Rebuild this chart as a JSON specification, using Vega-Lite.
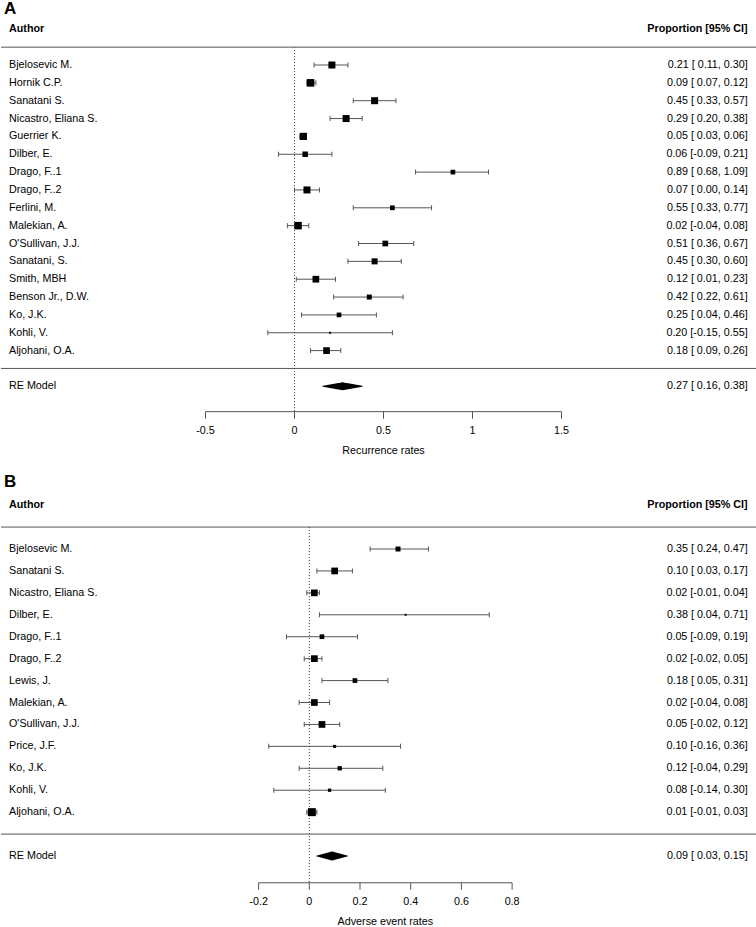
{
  "$schema": "https://vega.github.io/schema/vega-lite/v6.json",
  "padding": 0,
  "spacing": 0,
  "bounds": "flush",
  "background": "white",
  "config": {
    "view": {"stroke": null},
    "axis": {"disable": true},
    "legend": {"disable": true},
    "text": {"font": "Liberation Sans", "fontSize": 10.75, "color": "black"}
  },
  "datasets": {
    "studies": [
      {"panel": "A", "type": "study", "row": 0, "author": "Bjelosevic M.", "est": 0.21, "lo": 0.11, "hi": 0.30, "weight": 7, "ci": "0.21 [ 0.11, 0.30]"},
      {"panel": "A", "type": "study", "row": 1, "author": "Hornik C.P.", "est": 0.09, "lo": 0.07, "hi": 0.12, "weight": 7.6, "ci": "0.09 [ 0.07, 0.12]"},
      {"panel": "A", "type": "study", "row": 2, "author": "Sanatani S.", "est": 0.45, "lo": 0.33, "hi": 0.57, "weight": 7, "ci": "0.45 [ 0.33, 0.57]"},
      {"panel": "A", "type": "study", "row": 3, "author": "Nicastro, Eliana S.", "est": 0.29, "lo": 0.20, "hi": 0.38, "weight": 7, "ci": "0.29 [ 0.20, 0.38]"},
      {"panel": "A", "type": "study", "row": 4, "author": "Guerrier K.", "est": 0.05, "lo": 0.03, "hi": 0.06, "weight": 7.2, "ci": "0.05 [ 0.03, 0.06]"},
      {"panel": "A", "type": "study", "row": 5, "author": "Dilber, E.", "est": 0.06, "lo": -0.09, "hi": 0.21, "weight": 5.5, "ci": "0.06 [-0.09, 0.21]"},
      {"panel": "A", "type": "study", "row": 6, "author": "Drago, F..1", "est": 0.89, "lo": 0.68, "hi": 1.09, "weight": 4.7, "ci": "0.89 [ 0.68, 1.09]"},
      {"panel": "A", "type": "study", "row": 7, "author": "Drago, F..2", "est": 0.07, "lo": 0.00, "hi": 0.14, "weight": 7, "ci": "0.07 [ 0.00, 0.14]"},
      {"panel": "A", "type": "study", "row": 8, "author": "Ferlini, M.", "est": 0.55, "lo": 0.33, "hi": 0.77, "weight": 4.7, "ci": "0.55 [ 0.33, 0.77]"},
      {"panel": "A", "type": "study", "row": 9, "author": "Malekian, A.", "est": 0.02, "lo": -0.04, "hi": 0.08, "weight": 7.5, "ci": "0.02 [-0.04, 0.08]"},
      {"panel": "A", "type": "study", "row": 10, "author": "O'Sullivan, J.J.", "est": 0.51, "lo": 0.36, "hi": 0.67, "weight": 5.7, "ci": "0.51 [ 0.36, 0.67]"},
      {"panel": "A", "type": "study", "row": 11, "author": "Sanatani, S.", "est": 0.45, "lo": 0.30, "hi": 0.60, "weight": 6, "ci": "0.45 [ 0.30, 0.60]"},
      {"panel": "A", "type": "study", "row": 12, "author": "Smith, MBH", "est": 0.12, "lo": 0.01, "hi": 0.23, "weight": 6.7, "ci": "0.12 [ 0.01, 0.23]"},
      {"panel": "A", "type": "study", "row": 13, "author": "Benson Jr., D.W.", "est": 0.42, "lo": 0.22, "hi": 0.61, "weight": 5, "ci": "0.42 [ 0.22, 0.61]"},
      {"panel": "A", "type": "study", "row": 14, "author": "Ko, J.K.", "est": 0.25, "lo": 0.04, "hi": 0.46, "weight": 4.7, "ci": "0.25 [ 0.04, 0.46]"},
      {"panel": "A", "type": "study", "row": 15, "author": "Kohli, V.", "est": 0.20, "lo": -0.15, "hi": 0.55, "weight": 2, "ci": "0.20 [-0.15, 0.55]"},
      {"panel": "A", "type": "study", "row": 16, "author": "Aljohani, O.A.", "est": 0.18, "lo": 0.09, "hi": 0.26, "weight": 6.7, "ci": "0.18 [ 0.09, 0.26]"},
      {"panel": "A", "type": "summary", "row": 18, "author": "RE Model", "est": 0.27, "lo": 0.16, "hi": 0.38, "ci": "0.27 [ 0.16, 0.38]"},
      {"panel": "B", "type": "study", "row": 0, "author": "Bjelosevic M.", "est": 0.35, "lo": 0.24, "hi": 0.47, "weight": 5, "ci": "0.35 [ 0.24, 0.47]"},
      {"panel": "B", "type": "study", "row": 1, "author": "Sanatani S.", "est": 0.10, "lo": 0.03, "hi": 0.17, "weight": 6.7, "ci": "0.10 [ 0.03, 0.17]"},
      {"panel": "B", "type": "study", "row": 2, "author": "Nicastro, Eliana S.", "est": 0.02, "lo": -0.01, "hi": 0.04, "weight": 6.7, "ci": "0.02 [-0.01, 0.04]"},
      {"panel": "B", "type": "study", "row": 3, "author": "Dilber, E.", "est": 0.38, "lo": 0.04, "hi": 0.71, "weight": 2, "ci": "0.38 [ 0.04, 0.71]"},
      {"panel": "B", "type": "study", "row": 4, "author": "Drago, F..1", "est": 0.05, "lo": -0.09, "hi": 0.19, "weight": 4.7, "ci": "0.05 [-0.09, 0.19]"},
      {"panel": "B", "type": "study", "row": 5, "author": "Drago, F..2", "est": 0.02, "lo": -0.02, "hi": 0.05, "weight": 6.7, "ci": "0.02 [-0.02, 0.05]"},
      {"panel": "B", "type": "study", "row": 6, "author": "Lewis, J.", "est": 0.18, "lo": 0.05, "hi": 0.31, "weight": 4.7, "ci": "0.18 [ 0.05, 0.31]"},
      {"panel": "B", "type": "study", "row": 7, "author": "Malekian, A.", "est": 0.02, "lo": -0.04, "hi": 0.08, "weight": 6.7, "ci": "0.02 [-0.04, 0.08]"},
      {"panel": "B", "type": "study", "row": 8, "author": "O'Sullivan, J.J.", "est": 0.05, "lo": -0.02, "hi": 0.12, "weight": 6.7, "ci": "0.05 [-0.02, 0.12]"},
      {"panel": "B", "type": "study", "row": 9, "author": "Price, J.F.", "est": 0.10, "lo": -0.16, "hi": 0.36, "weight": 3, "ci": "0.10 [-0.16, 0.36]"},
      {"panel": "B", "type": "study", "row": 10, "author": "Ko, J.K.", "est": 0.12, "lo": -0.04, "hi": 0.29, "weight": 4.3, "ci": "0.12 [-0.04, 0.29]"},
      {"panel": "B", "type": "study", "row": 11, "author": "Kohli, V.", "est": 0.08, "lo": -0.14, "hi": 0.30, "weight": 3.3, "ci": "0.08 [-0.14, 0.30]"},
      {"panel": "B", "type": "study", "row": 12, "author": "Aljohani, O.A.", "est": 0.01, "lo": -0.01, "hi": 0.03, "weight": 8, "ci": "0.01 [-0.01, 0.03]"},
      {"panel": "B", "type": "summary", "row": 14, "author": "RE Model", "est": 0.09, "lo": 0.03, "hi": 0.15, "ci": "0.09 [ 0.03, 0.15]"}
    ],
    "ticks": [
      {"panel": "A", "v": -0.5, "label": "-0.5"},
      {"panel": "A", "v": 0, "label": "0"},
      {"panel": "A", "v": 0.5, "label": "0.5"},
      {"panel": "A", "v": 1, "label": "1"},
      {"panel": "A", "v": 1.5, "label": "1.5"},
      {"panel": "B", "v": -0.2, "label": "-0.2"},
      {"panel": "B", "v": 0, "label": "0"},
      {"panel": "B", "v": 0.2, "label": "0.2"},
      {"panel": "B", "v": 0.4, "label": "0.4"},
      {"panel": "B", "v": 0.6, "label": "0.6"},
      {"panel": "B", "v": 0.8, "label": "0.8"}
    ]
  },
  "vconcat": [
    {
      "width": 756,
      "height": 463,
      "layer": [
        {"data": {"values": [{}]}, "mark": {"type": "rule", "color": "#333", "strokeDash": [1, 2]},
         "encoding": {
           "x": {"datum": 0, "type": "quantitative", "scale": {"domain": [-1.6489, 2.5983], "nice": false, "zero": false}, "axis": null},
           "y": {"datum": -1, "type": "quantitative", "scale": {"domain": [-3.6415, 22.2969], "nice": false, "zero": false, "reverse": true}, "axis": null},
           "y2": {"datum": 19.42}}},
        {"data": {"values": [{}]}, "mark": {"type": "rule", "color": "#555"}, "encoding": {"y": {"datum": -1, "type": "quantitative"}}},
        {"data": {"values": [{}]}, "mark": {"type": "rule", "color": "#555"}, "encoding": {"y": {"datum": 17, "type": "quantitative"}}},
        {"data": {"name": "studies"}, "transform": [{"filter": "datum.panel === 'A' && datum.type === 'study'"}],
         "mark": {"type": "rule", "color": "#555"},
         "encoding": {"x": {"field": "lo", "type": "quantitative"}, "x2": {"field": "hi"}, "y": {"field": "row", "type": "quantitative"}}},
        {"data": {"name": "studies"}, "transform": [{"filter": "datum.panel === 'A' && datum.type === 'study'"}],
         "mark": {"type": "tick", "orient": "vertical", "size": 5, "thickness": 1, "color": "#555", "opacity": 1},
         "encoding": {"x": {"field": "lo", "type": "quantitative"}, "y": {"field": "row", "type": "quantitative"}}},
        {"data": {"name": "studies"}, "transform": [{"filter": "datum.panel === 'A' && datum.type === 'study'"}],
         "mark": {"type": "tick", "orient": "vertical", "size": 5, "thickness": 1, "color": "#555", "opacity": 1},
         "encoding": {"x": {"field": "hi", "type": "quantitative"}, "y": {"field": "row", "type": "quantitative"}}},
        {"data": {"name": "studies"}, "transform": [{"filter": "datum.panel === 'A' && datum.type === 'study'"}],
         "mark": {"type": "point", "shape": "square", "filled": true, "color": "black", "opacity": 1},
         "encoding": {"x": {"field": "est", "type": "quantitative"}, "y": {"field": "row", "type": "quantitative"},
           "size": {"field": "weight", "type": "quantitative", "scale": {"type": "pow", "exponent": 2, "domain": [0, 10], "range": [0, 100]}, "legend": null}}},
        {"data": {"name": "studies"}, "transform": [{"filter": "datum.panel === 'A' && datum.type === 'summary'"}, {"fold": ["lo", "est", "hi"], "as": ["pt", "xv"]}],
         "mark": {"type": "trail", "color": "black"},
         "encoding": {"x": {"field": "xv", "type": "quantitative"}, "y": {"field": "row", "type": "quantitative"},
           "size": {"condition": {"test": "datum.pt === 'est'", "value": 8}, "value": 0}}},
        {"data": {"name": "studies"}, "transform": [{"filter": "datum.panel === 'A'"}],
         "mark": {"type": "text", "align": "left", "baseline": "middle"},
         "encoding": {"x": {"datum": -1.604, "type": "quantitative"}, "y": {"field": "row", "type": "quantitative"}, "text": {"field": "author"}}},
        {"data": {"name": "studies"}, "transform": [{"filter": "datum.panel === 'A'"}],
         "mark": {"type": "text", "align": "right", "baseline": "middle"},
         "encoding": {"x": {"datum": 2.546, "type": "quantitative"}, "y": {"field": "row", "type": "quantitative"}, "text": {"field": "ci"}}},
        {"data": {"values": [{}]}, "mark": {"type": "text", "align": "left", "baseline": "middle", "fontWeight": "bold"},
         "encoding": {"x": {"datum": -1.604, "type": "quantitative"}, "y": {"datum": -2, "type": "quantitative"}, "text": {"value": "Author"}}},
        {"data": {"values": [{}]}, "mark": {"type": "text", "align": "right", "baseline": "middle", "fontWeight": "bold"},
         "encoding": {"x": {"datum": 2.546, "type": "quantitative"}, "y": {"datum": -2, "type": "quantitative"}, "text": {"value": "Proportion [95% CI]"}}},
        {"data": {"values": [{}]}, "mark": {"type": "text", "align": "left", "baseline": "middle", "fontWeight": "bold", "fontSize": 17},
         "encoding": {"x": {"datum": -1.632, "type": "quantitative"}, "y": {"datum": -3.11, "type": "quantitative"}, "text": {"value": "A"}}},
        {"data": {"values": [{}]}, "mark": {"type": "rule", "color": "#555"},
         "encoding": {"x": {"datum": -0.5, "type": "quantitative"}, "x2": {"datum": 1.5}, "y": {"datum": 19.42, "type": "quantitative"}}},
        {"data": {"name": "ticks"}, "transform": [{"filter": "datum.panel === 'A'"}],
         "mark": {"type": "tick", "orient": "vertical", "size": 7, "thickness": 1, "yOffset": 3.5, "color": "#555", "opacity": 1},
         "encoding": {"x": {"field": "v", "type": "quantitative"}, "y": {"datum": 19.42, "type": "quantitative"}}},
        {"data": {"name": "ticks"}, "transform": [{"filter": "datum.panel === 'A'"}],
         "mark": {"type": "text", "align": "center", "baseline": "middle"},
         "encoding": {"x": {"field": "v", "type": "quantitative"}, "y": {"datum": 20.5, "type": "quantitative"}, "text": {"field": "label"}}},
        {"data": {"values": [{}]}, "mark": {"type": "text", "align": "center", "baseline": "middle"},
         "encoding": {"x": {"datum": 0.5, "type": "quantitative"}, "y": {"datum": 21.62, "type": "quantitative"}, "text": {"value": "Recurrence rates"}}}
      ]
    },
    {
      "width": 756,
      "height": 464,
      "layer": [
        {"data": {"values": [{}]}, "mark": {"type": "rule", "color": "#333", "strokeDash": [1, 2]},
         "encoding": {
           "x": {"datum": 0, "type": "quantitative", "scale": {"domain": [-1.2162, 1.7661], "nice": false, "zero": false}, "axis": null},
           "y": {"datum": -1, "type": "quantitative", "scale": {"domain": [-3.9216, 17.2366], "nice": false, "zero": false, "reverse": true}, "axis": null},
           "y2": {"datum": 15.22}}},
        {"data": {"values": [{}]}, "mark": {"type": "rule", "color": "#555"}, "encoding": {"y": {"datum": -1, "type": "quantitative"}}},
        {"data": {"values": [{}]}, "mark": {"type": "rule", "color": "#555"}, "encoding": {"y": {"datum": 13, "type": "quantitative"}}},
        {"data": {"name": "studies"}, "transform": [{"filter": "datum.panel === 'B' && datum.type === 'study'"}],
         "mark": {"type": "rule", "color": "#555"},
         "encoding": {"x": {"field": "lo", "type": "quantitative"}, "x2": {"field": "hi"}, "y": {"field": "row", "type": "quantitative"}}},
        {"data": {"name": "studies"}, "transform": [{"filter": "datum.panel === 'B' && datum.type === 'study'"}],
         "mark": {"type": "tick", "orient": "vertical", "size": 5, "thickness": 1, "color": "#555", "opacity": 1},
         "encoding": {"x": {"field": "lo", "type": "quantitative"}, "y": {"field": "row", "type": "quantitative"}}},
        {"data": {"name": "studies"}, "transform": [{"filter": "datum.panel === 'B' && datum.type === 'study'"}],
         "mark": {"type": "tick", "orient": "vertical", "size": 5, "thickness": 1, "color": "#555", "opacity": 1},
         "encoding": {"x": {"field": "hi", "type": "quantitative"}, "y": {"field": "row", "type": "quantitative"}}},
        {"data": {"name": "studies"}, "transform": [{"filter": "datum.panel === 'B' && datum.type === 'study'"}],
         "mark": {"type": "point", "shape": "square", "filled": true, "color": "black", "opacity": 1},
         "encoding": {"x": {"field": "est", "type": "quantitative"}, "y": {"field": "row", "type": "quantitative"},
           "size": {"field": "weight", "type": "quantitative", "scale": {"type": "pow", "exponent": 2, "domain": [0, 10], "range": [0, 100]}, "legend": null}}},
        {"data": {"name": "studies"}, "transform": [{"filter": "datum.panel === 'B' && datum.type === 'summary'"}, {"fold": ["lo", "est", "hi"], "as": ["pt", "xv"]}],
         "mark": {"type": "trail", "color": "black"},
         "encoding": {"x": {"field": "xv", "type": "quantitative"}, "y": {"field": "row", "type": "quantitative"},
           "size": {"condition": {"test": "datum.pt === 'est'", "value": 9}, "value": 0}}},
        {"data": {"name": "studies"}, "transform": [{"filter": "datum.panel === 'B'"}],
         "mark": {"type": "text", "align": "left", "baseline": "middle"},
         "encoding": {"x": {"datum": -1.1846, "type": "quantitative"}, "y": {"field": "row", "type": "quantitative"}, "text": {"field": "author"}}},
        {"data": {"name": "studies"}, "transform": [{"filter": "datum.panel === 'B'"}],
         "mark": {"type": "text", "align": "right", "baseline": "middle"},
         "encoding": {"x": {"datum": 1.7294, "type": "quantitative"}, "y": {"field": "row", "type": "quantitative"}, "text": {"field": "ci"}}},
        {"data": {"values": [{}]}, "mark": {"type": "text", "align": "left", "baseline": "middle", "fontWeight": "bold"},
         "encoding": {"x": {"datum": -1.1846, "type": "quantitative"}, "y": {"datum": -2, "type": "quantitative"}, "text": {"value": "Author"}}},
        {"data": {"values": [{}]}, "mark": {"type": "text", "align": "right", "baseline": "middle", "fontWeight": "bold"},
         "encoding": {"x": {"datum": 1.7294, "type": "quantitative"}, "y": {"datum": -2, "type": "quantitative"}, "text": {"value": "Proportion [95% CI]"}}},
        {"data": {"values": [{}]}, "mark": {"type": "text", "align": "left", "baseline": "middle", "fontWeight": "bold", "fontSize": 17},
         "encoding": {"x": {"datum": -1.2043, "type": "quantitative"}, "y": {"datum": -3.07, "type": "quantitative"}, "text": {"value": "B"}}},
        {"data": {"values": [{}]}, "mark": {"type": "rule", "color": "#555"},
         "encoding": {"x": {"datum": -0.2, "type": "quantitative"}, "x2": {"datum": 0.8}, "y": {"datum": 15.22, "type": "quantitative"}}},
        {"data": {"name": "ticks"}, "transform": [{"filter": "datum.panel === 'B'"}],
         "mark": {"type": "tick", "orient": "vertical", "size": 7, "thickness": 1, "yOffset": 3.5, "color": "#555", "opacity": 1},
         "encoding": {"x": {"field": "v", "type": "quantitative"}, "y": {"datum": 15.22, "type": "quantitative"}}},
        {"data": {"name": "ticks"}, "transform": [{"filter": "datum.panel === 'B'"}],
         "mark": {"type": "text", "align": "center", "baseline": "middle"},
         "encoding": {"x": {"field": "v", "type": "quantitative"}, "y": {"datum": 16.1, "type": "quantitative"}, "text": {"field": "label"}}},
        {"data": {"values": [{}]}, "mark": {"type": "text", "align": "center", "baseline": "middle"},
         "encoding": {"x": {"datum": 0.3, "type": "quantitative"}, "y": {"datum": 17.0, "type": "quantitative"}, "text": {"value": "Adverse event rates"}}}
      ]
    }
  ]
}
